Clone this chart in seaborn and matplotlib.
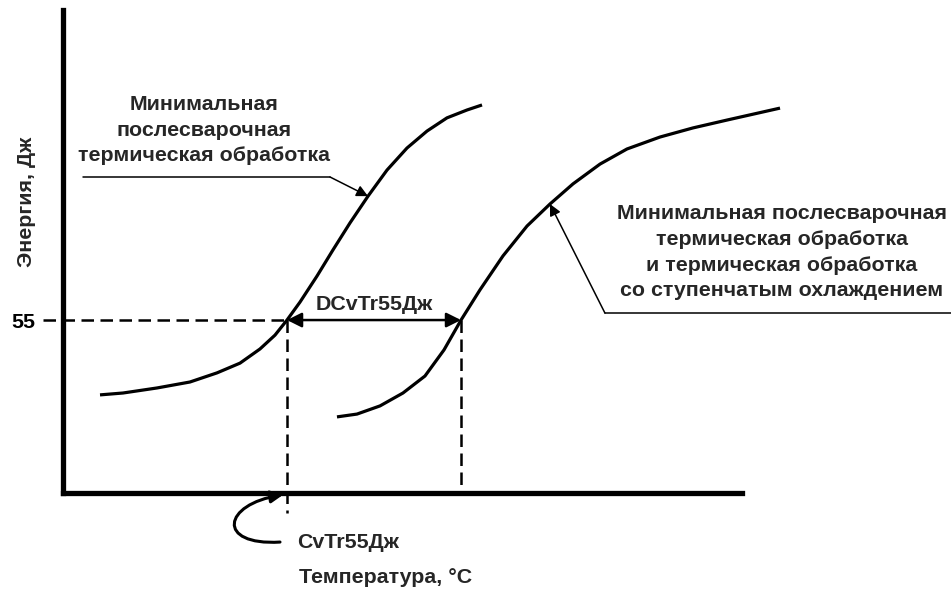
import numpy as np
import pandas as pd
import matplotlib
matplotlib.use("Agg")
import matplotlib.pyplot as plt
from matplotlib.patches import FancyArrowPatch
from matplotlib.path import Path
import seaborn as sns

# ---- data (arbitrary temperature units) ----
curve1_temp = [5.45, 8.84, 13.84, 18.70, 22.68, 26.07, 29.01, 31.22, 32.99, 34.90,
               37.41, 39.76, 42.27, 44.92, 47.72, 50.66, 53.61, 56.55, 59.50, 61.71]
curve1_energy = [31.2, 31.8, 33.4, 35.3, 38.2, 41.3, 45.8, 50.2, 55.0, 60.7,
                 69.0, 77.3, 85.9, 94.4, 102.7, 109.7, 115.1, 119.3, 121.8, 123.4]
curve2_temp = [40.35, 43.30, 46.69, 50.07, 53.31, 56.11, 58.62, 61.41, 64.80, 68.34,
               71.72, 75.11, 79.09, 83.06, 87.92, 92.78, 97.79, 105.6]
curve2_energy = [24.2, 25.1, 27.7, 31.8, 37.2, 45.5, 55.0, 64.6, 75.4, 84.9,
                 91.9, 98.3, 104.6, 109.4, 113.2, 116.1, 118.6, 122.4]
ref_energy = 55
t55_first = 32.99
t55_second = 58.62
ytick_values = [55]
ytick_labels = ["55"]

label_curve1 = "Минимальная\nпослесварочная\nтермическая обработка"
label_curve2 = ("Минимальная послесварочная\nтермическая обработка\n"
                "и термическая обработка\nсо ступенчатым охлаждением")
label_delta = "DCvTr55Дж"
label_t55 = "CvTr55Дж"
xlabel = "Температура, °C"
ylabel = "Энергия, Дж"

sns.set_theme(style="white")
plt.rcParams["font.family"] = ["Liberation Sans", "DejaVu Sans"]

FS = 15.4
LS = 1.45
fig = plt.figure(figsize=(9.51, 5.94), dpi=100)
ax = fig.add_axes([63 / 951, 101 / 594, 888 / 951, 483 / 594])
ax.set_xlim(0, 888 / 6.79)
ax.set_ylim(0, 153.6)

df1 = pd.DataFrame({"t": curve1_temp, "e": curve1_energy})
df2 = pd.DataFrame({"t": curve2_temp, "e": curve2_energy})
for df in (df1, df2):
    sns.lineplot(data=df, x="t", y="e", color="black", lw=2.3, ax=ax, sort=False,
                 estimator=None, solid_joinstyle="round", solid_capstyle="butt")

for s in ["top", "right"]:
    ax.spines[s].set_visible(False)
for s in ["left", "bottom"]:
    ax.spines[s].set_linewidth(3.8)
    ax.spines[s].set_color("black")
ax.spines["bottom"].set_bounds(0, 100)
ax.spines["bottom"].set_capstyle("projecting")

ax.set_xticks([])
ax.set_yticks(ytick_values)
ax.set_yticklabels(ytick_labels)
ax.tick_params(axis="y", length=0, pad=20, labelsize=FS, labelcolor="black")
for lab in ax.get_yticklabels():
    lab.set_fontweight("bold")
ax.set_xlabel("")
ax.set_ylabel("")

dash = (0, (5, 2.6))
ax.plot([-2.95, t55_first], [ref_energy, ref_energy], color="black", lw=1.8, ls=dash, clip_on=False)
ax.plot([t55_first, t55_first], [ref_energy, -6.36], color="black", lw=1.8, ls=dash, clip_on=False)
ax.plot([t55_second, t55_second], [ref_energy, 0], color="black", lw=1.8, ls=dash, clip_on=False)

# double arrow
ax.annotate("", xy=(t55_second, ref_energy), xytext=(t55_first, ref_energy),
            arrowprops=dict(arrowstyle="<|-|>", color="black", lw=1.8,
                            mutation_scale=22, shrinkA=0, shrinkB=0))
ax.text((t55_first + t55_second) / 2, 58.2, label_delta, ha="center", va="baseline",
        fontsize=FS, fontweight="bold")

# annotation 1
ax.text(20.77, 115.4, label_curve1, ha="center", va="center", fontsize=FS,
        fontweight="bold", linespacing=LS)
ax.plot([2.95, 39.32], [100.5, 100.5], color="black", lw=1.1)
ax.annotate("", xy=(44.92, 94.4), xytext=(39.32, 100.5),
            arrowprops=dict(arrowstyle="-|>", color="black", lw=1.1,
                            mutation_scale=17, shrinkA=0, shrinkB=0))

# annotation 2
ax.text(105.9, 76.6, label_curve2, ha="center", va="center", fontsize=FS,
        fontweight="bold", linespacing=LS)
ax.plot([79.82, 130.8], [57.2, 57.2], color="black", lw=1.1, clip_on=False)
ax.annotate("", xy=(71.72, 91.9), xytext=(79.82, 57.2),
            arrowprops=dict(arrowstyle="-|>", color="black", lw=1.1,
                            mutation_scale=17, shrinkA=0, shrinkB=0))

# curved arrow to the CvTr55 point
hook = Path([(31.96, -15.6), (22.5, -16.8), (23.5, -3.5), (32.4, -0.6)],
            [Path.MOVETO, Path.CURVE4, Path.CURVE4, Path.CURVE4])
arr = FancyArrowPatch(path=hook, arrowstyle="-|>", color="black", lw=2.2,
                      mutation_scale=18, transform=ax.transData, clip_on=False)
ax.add_patch(arr)
ax.text(34.5, -15.9, label_t55, ha="left", va="center", fontsize=FS, fontweight="bold", clip_on=False)
ax.text(34.8, -26.8, xlabel, ha="left", va="center", fontsize=FS, fontweight="bold", clip_on=False)

fig.text(26 / 951, 1 - 202 / 594, ylabel, rotation=90, ha="center", va="center",
         fontsize=FS, fontweight="bold")

fig.savefig("out.png", dpi=100, facecolor="white")
